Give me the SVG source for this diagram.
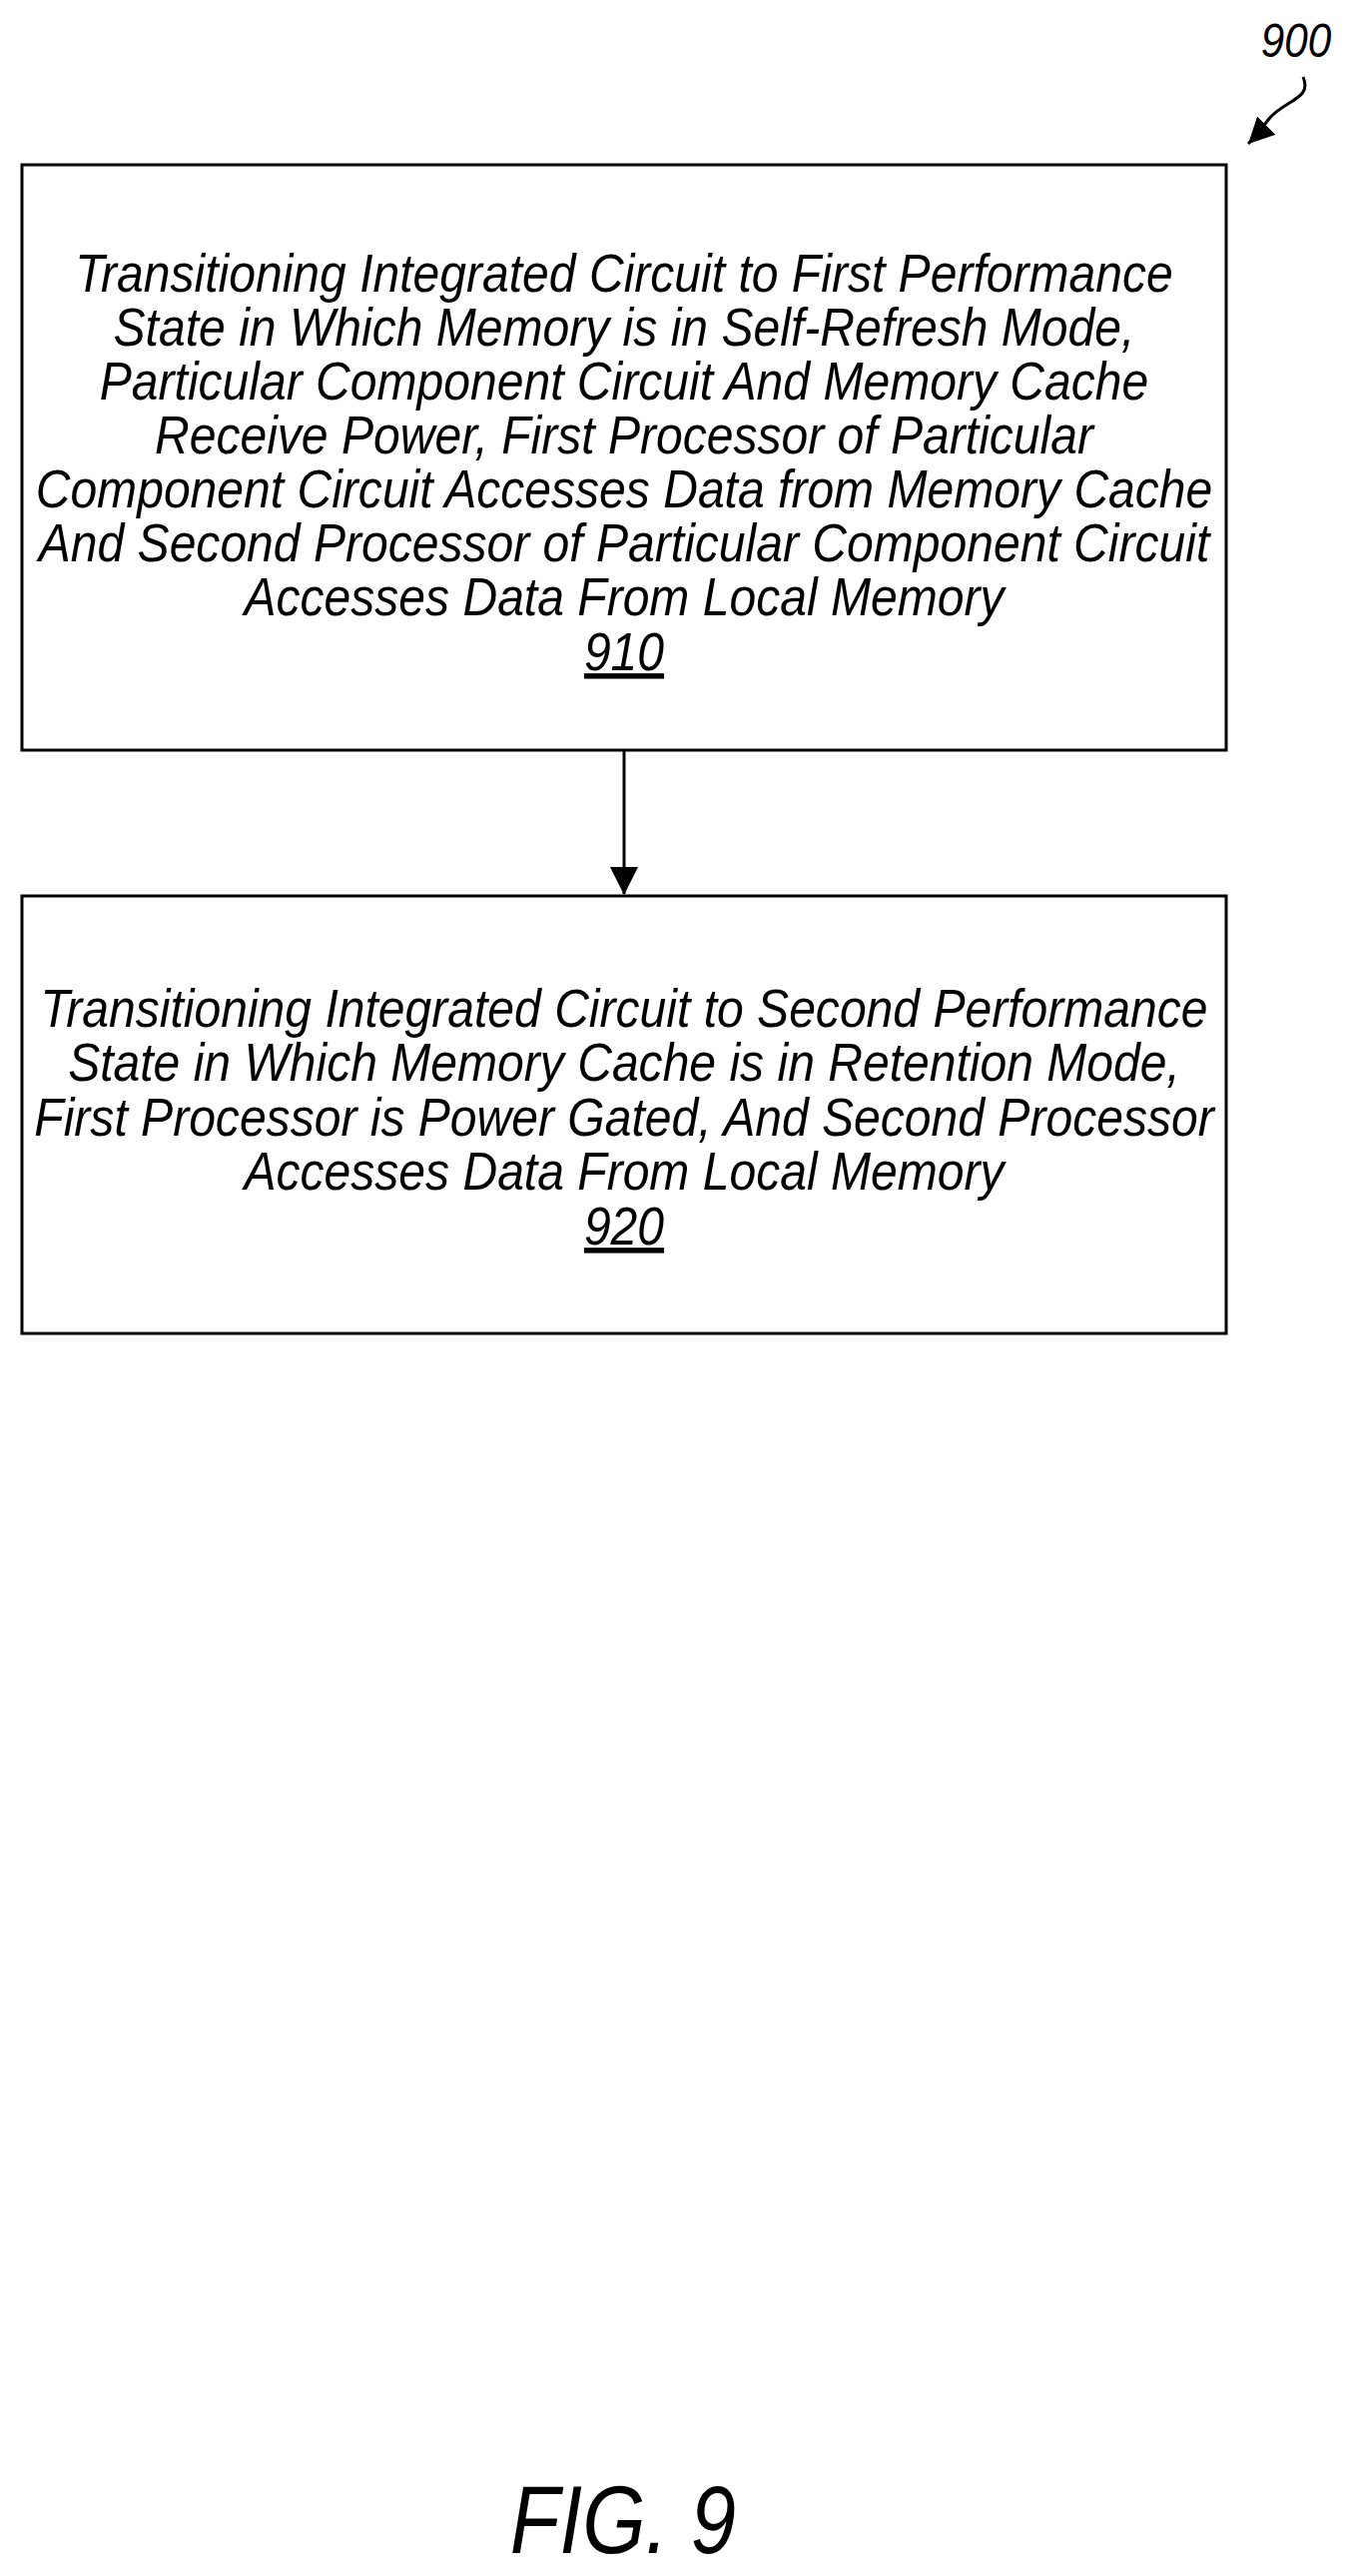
<svg xmlns="http://www.w3.org/2000/svg" width="1359" height="2579" viewBox="0 0 1359 2579">
<style>
text{font-family:"Liberation Sans",Arial,sans-serif;font-style:italic;fill:#000;text-anchor:middle}
.b{font-size:54px}
.box{fill:#fff;stroke:#000;stroke-width:3}
.ln{stroke:#000;stroke-width:3;fill:none}
</style>
<defs>
<marker id="ah2" viewBox="0 0 10 10" refX="10" refY="5" markerWidth="26" markerHeight="26" markerUnits="userSpaceOnUse" orient="auto"><path d="M0,0L10,5L0,10z" fill="#000"/></marker>
</defs>
<rect width="1359" height="2579" fill="#fff"/>
<g id="label900">
<text x="1298" y="57" style="font-size:48px" transform="translate(1298,0) scale(0.88,1) translate(-1298,0)">900</text>
<path class="ln" d="M1305,77 C1315,100 1285,100 1270,120 S1262,132 1250,144" marker-end="url(#ah2)"/>
</g>
<g id="node910">
<rect class="box" x="22" y="165" width="1206" height="586"/>
<g transform="translate(625,0) scale(0.89,1) translate(-625,0)">
<text class="b" x="625" y="292">Transitioning Integrated Circuit to First Performance</text>
<text class="b" x="625" y="346">State in Which Memory is in Self-Refresh Mode,</text>
<text class="b" x="625" y="400">Particular Component Circuit And Memory Cache</text>
<text class="b" x="625" y="454">Receive Power, First Processor of Particular</text>
<text class="b" x="625" y="508">Component Circuit Accesses Data from Memory Cache</text>
<text class="b" x="625" y="562">And Second Processor of Particular Component Circuit</text>
<text class="b" x="625" y="616">Accesses Data From Local Memory</text>
<text class="b" x="625" y="671" text-decoration="underline">910</text>
</g>
</g>
<g id="node920">
<rect class="box" x="22" y="897" width="1206" height="438"/>
<g transform="translate(625,0) scale(0.89,1) translate(-625,0)">
<text class="b" x="625" y="1028">Transitioning Integrated Circuit to Second Performance</text>
<text class="b" x="625" y="1082">State in Which Memory Cache is in Retention Mode,</text>
<text class="b" x="625" y="1137">First Processor is Power Gated, And Second Processor</text>
<text class="b" x="625" y="1191">Accesses Data From Local Memory</text>
<text class="b" x="625" y="1246" text-decoration="underline">920</text>
</g>
</g>
<g id="connectors">
<line x1="625" y1="751" x2="625" y2="895" stroke="#000" stroke-width="3"/>
<path d="M611,868L639,868L625,896z" fill="#000"/>
</g>
<g id="caption">
<text x="624" y="2556" style="font-size:97px" transform="translate(624,0) scale(0.84,1) translate(-624,0)">FIG. 9</text>
</g>
</svg>
